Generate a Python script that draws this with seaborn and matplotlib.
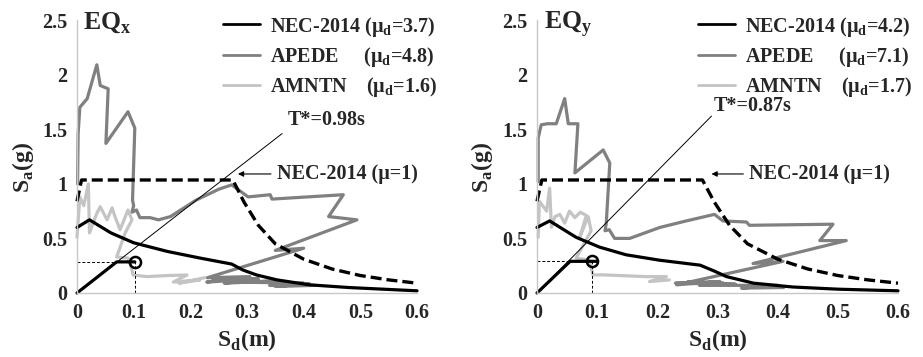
import matplotlib
matplotlib.use('Agg')
import seaborn as sns
from matplotlib import pyplot as plt
from matplotlib.lines import Line2D

sns.set_style('white')
# serif bold text like the original (Times-like)
plt.rcParams['font.family'] = ['Liberation Serif', 'DejaVu Serif']
plt.rcParams['font.weight'] = 'bold'
plt.rcParams['axes.labelweight'] = 'bold'

# design spectrum NEC-2014 (mu=1), same in both panels
el_sd = [0.0, 0.008, 0.275, 0.295, 0.32, 0.35, 0.40, 0.45, 0.50, 0.55, 0.60]
el_sa = [0.84, 1.035, 1.035, 0.83, 0.62, 0.45, 0.31, 0.22, 0.16, 0.12, 0.09]

# ---- EQx ----
nec_x_sd = [0.0, 0.022, 0.06, 0.10, 0.16, 0.217, 0.273, 0.293, 0.317, 0.353, 0.41, 0.48, 0.60]
nec_x_sa = [0.60, 0.67, 0.55, 0.46, 0.38, 0.32, 0.265, 0.21, 0.165, 0.12, 0.075, 0.05, 0.02]
apede_x_sd = [0.001, 0.002, 0.005, 0.018, 0.035, 0.041, 0.055, 0.051, 0.090, 0.102, 0.098, 0.100,
              0.097, 0.105, 0.111, 0.129, 0.144, 0.165, 0.21, 0.25, 0.273, 0.302, 0.341, 0.344,
              0.47, 0.444, 0.494, 0.35, 0.40, 0.23, 0.305, 0.229, 0.32, 0.24, 0.30, 0.26, 0.35,
              0.28, 0.40, 0.34, 0.41, 0.35, 0.42]
apede_x_sa = [1.00, 1.46, 1.70, 1.78, 2.09, 1.90, 1.87, 1.37, 1.66, 1.51, 0.85, 0.80,
              0.74, 0.76, 0.69, 0.69, 0.67, 0.70, 0.85, 0.95, 0.99, 0.88, 0.90, 0.86,
              0.90, 0.70, 0.67, 0.39, 0.41, 0.14, 0.15, 0.10, 0.13, 0.12, 0.11, 0.09, 0.11,
              0.10, 0.09, 0.07, 0.085, 0.06, 0.07]
amntn_x_sd = [0.0, 0.005, 0.012, 0.02, 0.022, 0.035, 0.041, 0.053, 0.062, 0.067, 0.076, 0.09,
              0.097, 0.085, 0.07, 0.09, 0.095, 0.099, 0.123, 0.16, 0.194, 0.17, 0.217, 0.18, 0.225]
amntn_x_sa = [0.51, 0.88, 0.80, 1.00, 0.55, 0.73, 0.79, 0.67, 0.78, 0.70, 0.58, 0.76,
              0.67, 0.55, 0.33, 0.32, 0.25, 0.165, 0.15, 0.16, 0.165, 0.10, 0.12, 0.09, 0.14]
cap_x_sd = [0.0, 0.07, 0.102]
cap_x_sa = [0.0, 0.285, 0.285]
pp_x = (0.102, 0.285)
tstar_x = (0.362, 1.46)

# ---- EQy ----
nec_y_sd = [0.0, 0.021, 0.065, 0.104, 0.148, 0.204, 0.271, 0.295, 0.315, 0.36, 0.425, 0.50, 0.60]
nec_y_sa = [0.60, 0.66, 0.51, 0.42, 0.35, 0.30, 0.255, 0.20, 0.15, 0.09, 0.055, 0.035, 0.02]
apede_y_sd = [0.002, 0.002, 0.007, 0.017, 0.032, 0.046, 0.052, 0.068, 0.063, 0.110, 0.121, 0.115,
              0.113, 0.120, 0.129, 0.154, 0.204, 0.248, 0.295, 0.309, 0.348, 0.353, 0.492, 0.47,
              0.514, 0.359, 0.409, 0.232, 0.304, 0.23, 0.33, 0.25, 0.31, 0.27, 0.40, 0.34, 0.41]
apede_y_sa = [1.02, 1.42, 1.54, 1.55, 1.55, 1.78, 1.55, 1.55, 1.10, 1.31, 1.19, 0.63,
              0.57, 0.58, 0.50, 0.50, 0.60, 0.66, 0.72, 0.66, 0.65, 0.62, 0.63, 0.48,
              0.48, 0.27, 0.29, 0.075, 0.105, 0.09, 0.08, 0.10, 0.09, 0.07, 0.07, 0.045, 0.05]
amntn_y_sd = [0.002, 0.004, 0.016, 0.021, 0.024, 0.03, 0.038, 0.046, 0.054, 0.063, 0.072, 0.082,
              0.071, 0.085, 0.09, 0.065, 0.087, 0.093, 0.11, 0.182, 0.215, 0.187, 0.22]
amntn_y_sa = [0.51, 0.84, 0.75, 0.96, 0.60, 0.70, 0.72, 0.64, 0.75, 0.69, 0.74, 0.71,
              0.51, 0.70, 0.57, 0.32, 0.30, 0.166, 0.166, 0.15, 0.15, 0.105, 0.12]
cap_y_sd = [0.0, 0.055, 0.10]
cap_y_sa = [0.0, 0.29, 0.29]
pp_y = (0.091, 0.29)
tstar_y = (0.29, 1.62)

x_ticks = [0, 0.1, 0.2, 0.3, 0.4, 0.5, 0.6]
x_labels = ['0', '0.1', '0.2', '0.3', '0.4', '0.5', '0.6']
y_ticks = [0, 0.5, 1, 1.5, 2, 2.5]
y_labels = ['0', '0.5', '1', '1.5', '2', '2.5']

C_APEDE = '#808080'
C_AMNTN = '#c4c4c4'
DASH = (0, (3.3, 1.5))


def line(ax, x, y, **kw):
    sns.lineplot(x=x, y=y, ax=ax, sort=False, estimator=None, clip_on=False, **kw)


def panel(ax, eq, nec, apede, amntn, cap, pp, tstar, tlabel, tlab_xy, mus, leg_x, arr_x):
    line(ax, apede[0], apede[1], color=C_APEDE, lw=2.3)
    line(ax, amntn[0], amntn[1], color=C_AMNTN, lw=2.3)
    line(ax, nec[0], nec[1], color='black', lw=2.3)
    line(ax, el_sd, el_sa, color='black', lw=2.4, linestyle=DASH)
    line(ax, [0, tstar[0]], [0, tstar[1]], color='black', lw=0.7)
    line(ax, cap[0], cap[1], color='black', lw=2.3)
    # performance point with dashed guides
    line(ax, [0, pp[0]], [pp[1], pp[1]], color='black', lw=0.7, linestyle=(0, (3, 2)))
    line(ax, [pp[0], pp[0]], [0, pp[1]], color='black', lw=0.7, linestyle=(0, (3, 2)))
    ax.plot([pp[0]], [pp[1]], 'o', ms=8, mfc='none', mec='black', mew=1.8, zorder=5)

    ax.set_xlim(0, 0.6)
    ax.set_ylim(0, 2.5)
    ax.set_xticks(x_ticks)
    ax.set_xticklabels(x_labels, fontweight='bold')
    ax.set_yticks(y_ticks)
    ax.set_yticklabels(y_labels, fontweight='bold')
    ax.tick_params(length=0, labelsize=14.5, pad=7)
    for s in ['top', 'right']:
        ax.spines[s].set_visible(False)
    for s in ['left', 'bottom']:
        ax.spines[s].set_color('#c8c8c8')
        ax.spines[s].set_linewidth(1)

    ax.text(0.011, 2.42, 'EQ$_\\mathregular{' + eq + '}$', fontsize=18.5, va='baseline',
            fontweight='bold')
    ax.text(tlab_xy[0], tlab_xy[1], tlabel, fontsize=14.5, va='center', fontweight='bold')
    ax.annotate('NEC-2014 (μ=1)', xy=(arr_x, 1.09), xytext=(0.353, 1.09), va='center',
                fontsize=14.5, fontweight='bold',
                arrowprops=dict(arrowstyle='-|>', lw=0.8, color='black', mutation_scale=8,
                                shrinkA=2, shrinkB=0))

    handles = [Line2D([], [], color='black', lw=2),
               Line2D([], [], color=C_APEDE, lw=2),
               Line2D([], [], color=C_AMNTN, lw=2)]
    labels = ['NEC-2014 (μ$_\\mathregular{d}$=' + mus[0] + ')',
              'APEDE     (μ$_\\mathregular{d}$=' + mus[1] + ')',
              'AMNTN    (μ$_\\mathregular{d}$=' + mus[2] + ')']
    ax.legend(handles, labels, loc='upper left', bbox_to_anchor=(leg_x, 1.02), frameon=False,
              prop={'size': 14.5, 'weight': 'bold'}, handlelength=1.85, handletextpad=0.5,
              labelspacing=0.3, borderpad=0, borderaxespad=0)

    ax.set_xlabel('S$_\\mathregular{d}$(m)', fontsize=17, fontweight='bold')
    ax.set_ylabel('S$_\\mathregular{a}$(g)', fontsize=17, fontweight='bold')


fig = plt.figure(figsize=(9.23, 3.57), dpi=100)
ax1 = fig.add_axes([77 / 923, 64 / 357, 340 / 923, 273 / 357])
ax2 = fig.add_axes([537 / 923, 64 / 357, 361 / 923, 273 / 357])

panel(ax1, 'x', (nec_x_sd, nec_x_sa), (apede_x_sd, apede_x_sa), (amntn_x_sd, amntn_x_sa),
      (cap_x_sd, cap_x_sa), pp_x, tstar_x, 'T*=0.98s', (0.371, 1.58), ['3.7', '4.8', '1.6'],
      0.429, 0.284)
panel(ax2, 'y', (nec_y_sd, nec_y_sa), (apede_y_sd, apede_y_sa), (amntn_y_sd, amntn_y_sa),
      (cap_y_sd, cap_y_sa), pp_y, tstar_y, 'T*=0.87s', (0.293, 1.71), ['4.2', '7.1', '1.7'],
      0.446, 0.29)

for ax, xc in [(ax1, -0.159), (ax2, -0.152)]:
    ax.yaxis.label.set_va('center')
    ax.yaxis.set_label_coords(xc, 0.46)
    ax.xaxis.label.set_va('center')
    ax.xaxis.set_label_coords(0.5, -0.172)

fig.savefig('out.png', dpi=100)
